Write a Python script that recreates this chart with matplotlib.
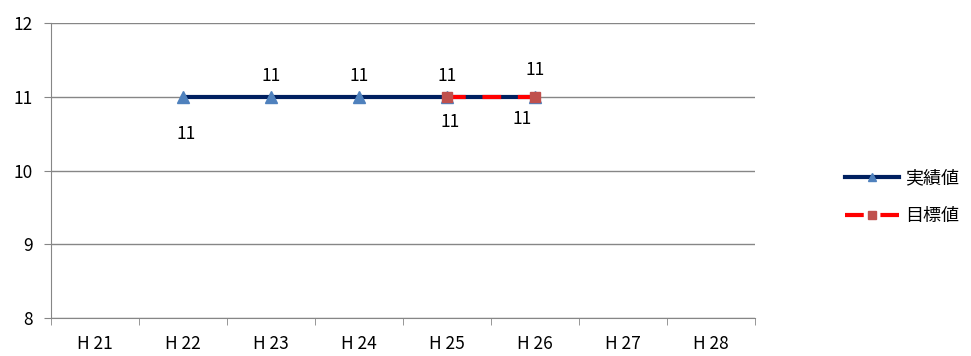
import matplotlib
matplotlib.use('Agg')
import matplotlib.pyplot as plt
import numpy as np

plt.rcParams['font.family'] = ['Noto Sans CJK JP', 'DejaVu Sans']

years = ['H 21', 'H 22', 'H 23', 'H 24', 'H 25', 'H 26', 'H 27', 'H 28']
actual = [np.nan, 11, 11, 11, 11, 11, np.nan, np.nan]
target = [np.nan, np.nan, np.nan, np.nan, 11, 11, np.nan, np.nan]

# label offsets (points) for each data label, None = no label
actual_label_off = [None, (2, -27), (0, 15), (0, 15), (0, 15), (0, 19), None, None]
target_label_off = [None, None, None, None, (2, -18), (-9, -16), None, None]

fig = plt.figure(figsize=(9.71, 3.56), dpi=100)
ax = fig.add_axes([51 / 971, 38 / 356, 704 / 971, 295 / 356])

x = np.arange(len(years))
ax.plot(x, actual, color='#002060', lw=3, marker='^', ms=8,
        mfc='#4F81BD', mec='#4F81BD', label='実績値', zorder=3)
ax.plot(x, target, color='#FF0000', lw=3, ls=(0, (4.5, 4)), marker='s', ms=7,
        mfc='#C0504D', mec='#C0504D', label='目標値', zorder=4)

def put_labels(vals, offs):
    for i, (v, o) in enumerate(zip(vals, offs)):
        if o is None or np.isnan(v):
            continue
        ax.annotate(f'{v:g}', (i, v), xytext=o, textcoords='offset points',
                    ha='center', va='center', fontsize=12.5)

put_labels(actual, actual_label_off)
put_labels(target, target_label_off)

ax.set_xlim(-0.5, len(years) - 0.5)
ax.set_ylim(8, 12)
ax.set_yticks([8, 9, 10, 11, 12])
ax.set_xticks(x)
ax.set_xticklabels(years, fontsize=12.5)
ax.set_xticks(np.arange(-0.5, len(years)), minor=True)
ax.tick_params(axis='x', which='major', length=0, pad=12)
ax.tick_params(axis='x', which='minor', length=5, color='#868686')
ax.tick_params(axis='y', length=5, color='#868686', labelsize=12.5, pad=8)
ax.yaxis.grid(True, color='#868686', lw=1)
ax.set_axisbelow(True)
for s in ['top', 'right']:
    ax.spines[s].set_visible(False)
for s in ['left', 'bottom']:
    ax.spines[s].set_color('#868686')

ax.legend(loc='center left', bbox_to_anchor=(1.105, 0.41), frameon=False,
          fontsize=13, handlelength=3, handletextpad=0.3,
          labelspacing=1.1, markerscale=0.8)

plt.savefig('out.png', dpi=100)
